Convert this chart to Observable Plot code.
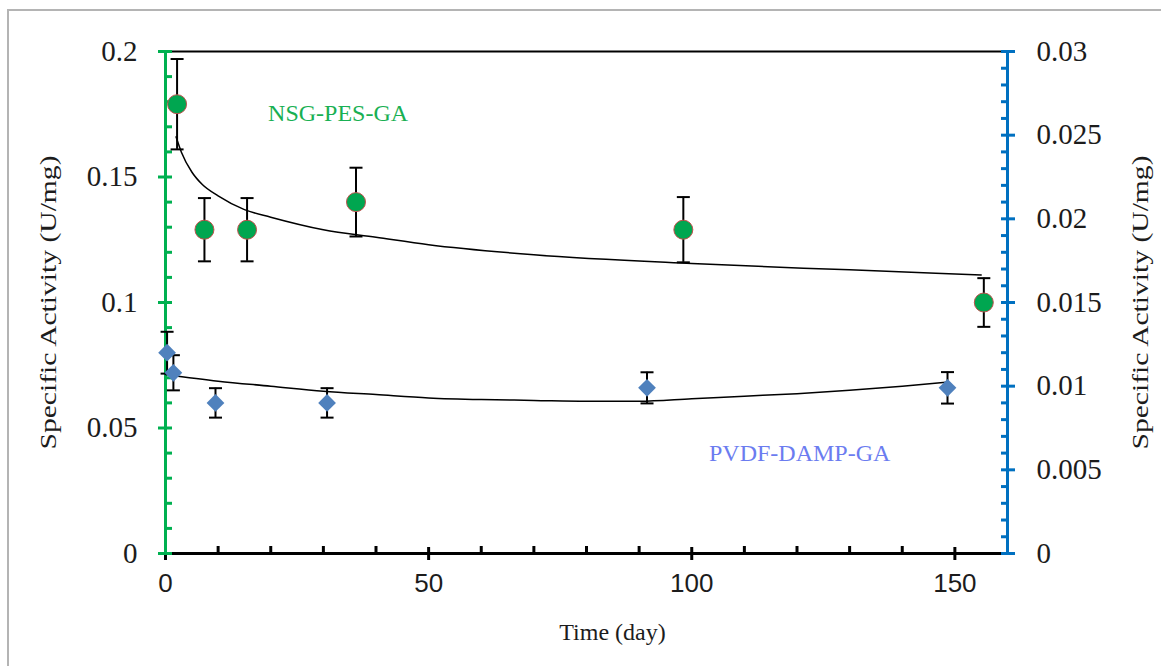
<!DOCTYPE html>
<html>
<head>
<meta charset="utf-8">
<script src="https://cdn.jsdelivr.net/npm/d3@7"></script>
<script src="https://cdn.jsdelivr.net/npm/@observablehq/plot@0.6"></script>
<style>
  html, body { margin: 0; padding: 0; background: #fff; overflow: hidden; }
  #wrap { position: relative; width: 1161px; height: 666px; }
  #wrap svg { position: absolute; left: 0; top: 0; background: transparent; }
  #border { position: absolute; left: 7px; top: 9px; width: 1200px; height: 700px;
            border: 2px solid #b4b4b4; pointer-events: none; }
</style>
</head>
<body>
<div id="wrap"><div id="border"></div></div>
<script>
// ---- data ----
const nsgDays     = [2.2, 7.4, 15.5, 36.2, 98.4, 155.5];
const nsgActivity = [0.179, 0.129, 0.129, 0.14, 0.129, 0.1];
const nsgError    = [0.018, 0.0126, 0.0126, 0.0137, 0.013, 0.0097];

const pvdfDays     = [0.3, 1.5, 9.5, 30.7, 91.5, 148.6];
const pvdfActivity = [0.012, 0.0108, 0.009, 0.009, 0.0099, 0.0099];   // right axis units
const pvdfError    = [0.00125, 0.00105, 0.00088, 0.00088, 0.00093, 0.00094];

const nsgTrendDays  = [2, 3, 5, 7, 10, 15, 20, 30, 40, 50, 70, 100, 130, 155];
const nsgTrendValue = [0.166, 0.160, 0.152, 0.147, 0.1425, 0.137, 0.134, 0.129, 0.126, 0.123, 0.119, 0.1155, 0.113, 0.111];

const pvdfTrendDays  = [0, 10, 20, 30, 40, 50, 60, 70, 80, 90, 100, 110, 120, 130, 140, 148.3];
const pvdfTrendValue = [0.0107, 0.0103, 0.0100, 0.0097, 0.0095, 0.0093, 0.0092, 0.00915, 0.0091, 0.0091, 0.00925, 0.0094, 0.00955, 0.00975, 0.0100, 0.01024];

const xDomain = [0, 160];
const yLeftDomain = [0, 0.2];
const yRightDomain = [0, 0.03];

const xMajorTicks = [0, 50, 100, 150];
const xMinorTicks = [10, 20, 30, 40, 60, 70, 80, 90, 110, 120, 130, 140];
const leftMajorTicks = [0, 0.05, 0.1, 0.15, 0.2];
const leftMinorTicks = [0.01, 0.02, 0.03, 0.04, 0.06, 0.07, 0.08, 0.09, 0.11, 0.12, 0.13, 0.14, 0.16, 0.17, 0.18, 0.19];
const rightMajorTicks = [0, 0.005, 0.01, 0.015, 0.02, 0.025, 0.03];
const rightMinorTicks = [0.001, 0.002, 0.003, 0.004, 0.006, 0.007, 0.008, 0.009, 0.011, 0.012, 0.013, 0.014,
                         0.016, 0.017, 0.018, 0.019, 0.021, 0.022, 0.023, 0.024, 0.026, 0.027, 0.028, 0.029];

const seriesLabels = ["NSG-PES-GA", "PVDF-DAMP-GA"];
const labelDays = [32.8, 120.5];
const labelValues = [0.1753, 0.0398];   // left axis units

const xTitle = "Time (day)";
const yTitle = "Specific Activity (U/mg)";

// ---- derived tables ----
const k = yLeftDomain[1] / yRightDomain[1]; // right -> left units
const nsg = nsgDays.map((d, i) => ({day: d, v: nsgActivity[i], e: nsgError[i]}));
const pvdf = pvdfDays.map((d, i) => ({day: d, v: pvdfActivity[i] * k, e: pvdfError[i] * k}));
const nsgTrend = nsgTrendDays.map((d, i) => ({day: d, v: nsgTrendValue[i]}));
const pvdfTrend = pvdfTrendDays.map((d, i) => ({day: d, v: pvdfTrendValue[i] * k}));
const labels = seriesLabels.map((s, i) => ({s, day: labelDays[i], v: labelValues[i]}));
const allBars = [...nsg, ...pvdf];
const caps = allBars.flatMap(d => [{day: d.day, v: d.v + d.e}, {day: d.day, v: d.v - d.e}]);

const capSymbol = { draw(ctx) { ctx.moveTo(-6.5, 0); ctx.lineTo(6.5, 0); } };

const GREEN = "#00b050", BLUE = "#0070c0", INK = "#1c1c1c";
const serif = "Liberation Serif, Times New Roman, serif";
const sans = "Liberation Sans, Arial, sans-serif";

const fmtLeft = d => String(+d.toFixed(3));
const fmtRight = d => String(Math.round(d / k * 10000) / 10000);

const chart = Plot.plot({
  width: 1161,
  height: 666,
  marginLeft: 165,
  marginRight: 154,
  marginTop: 51,
  marginBottom: 113,
  style: {background: "transparent", overflow: "visible"},
  x: {domain: xDomain},
  y: {domain: yLeftDomain},
  marks: [
    // top border and x axis line
    Plot.ruleY([yLeftDomain[1]], {stroke: "#000", strokeWidth: 2}),
    Plot.ruleY([yLeftDomain[0]], {stroke: "#000", strokeWidth: 3}),
    // x ticks
    Plot.axisX(xMajorTicks, {anchor: "bottom", tickSize: 13, dy: -6, stroke: "#000", strokeWidth: 3, fill: "none"}),
    Plot.axisX(xMinorTicks, {anchor: "bottom", tickSize: 7, dy: -7, stroke: "#000", strokeWidth: 3, fill: "none"}),
    Plot.axisX(xMajorTicks, {anchor: "bottom", tickSize: 0, tickPadding: 20, label: null, fill: INK,
      fontSize: 26, fontFamily: sans, tickFormat: d => String(d)}),
    // left axis (green)
    Plot.ruleX([xDomain[0]], {stroke: GREEN, strokeWidth: 3}),
    Plot.axisY(leftMajorTicks, {anchor: "left", tickSize: 14, dx: 7, stroke: GREEN, strokeWidth: 3, fill: "none"}),
    Plot.axisY(leftMinorTicks, {anchor: "left", tickSize: 7, dx: 7, stroke: GREEN, strokeWidth: 3, fill: "none"}),
    Plot.axisY(leftMajorTicks, {anchor: "left", tickSize: 0, tickPadding: 28, label: null, fill: INK,
      fontSize: 29, fontFamily: serif, tickFormat: fmtLeft}),
    // right axis (blue)
    Plot.ruleX([xDomain[1]], {stroke: BLUE, strokeWidth: 3}),
    Plot.axisY(rightMajorTicks.map(v => v * k), {anchor: "right", tickSize: 14, dx: -7, stroke: BLUE, strokeWidth: 3, fill: "none"}),
    Plot.axisY(rightMinorTicks.map(v => v * k), {anchor: "right", tickSize: 7, dx: -7, stroke: BLUE, strokeWidth: 3, fill: "none"}),
    Plot.axisY(rightMajorTicks.map(v => v * k), {anchor: "right", tickSize: 0, tickPadding: 29, label: null, fill: INK,
      fontSize: 29, fontFamily: serif, tickFormat: fmtRight}),
    // axis titles
    Plot.text([xTitle], {text: d => d, frameAnchor: "bottom", dx: 26, dy: 79, textAnchor: "middle", lineAnchor: "middle",
      fontSize: 24, fontFamily: serif, fill: INK}),
    Plot.text([yTitle], {text: d => d, frameAnchor: "left", rotate: -90, dx: -117, textAnchor: "middle", lineAnchor: "middle",
      fontSize: 23, fontFamily: serif, fill: INK, className: "ytitle"}),
    Plot.text([yTitle], {text: d => d, frameAnchor: "right", rotate: -90, dx: 133, textAnchor: "middle", lineAnchor: "middle",
      fontSize: 23, fontFamily: serif, fill: INK, className: "ytitle"}),
    // trend lines
    Plot.line(nsgTrend, {x: "day", y: "v", curve: "monotone-x", stroke: "#000", strokeWidth: 1.5}),
    Plot.line(pvdfTrend, {x: "day", y: "v", curve: "monotone-x", stroke: "#000", strokeWidth: 1.5}),
    // error bars
    Plot.ruleX(allBars, {x: "day", y1: d => d.v - d.e, y2: d => d.v + d.e, stroke: "#000", strokeWidth: 2}),
    Plot.dot(caps, {x: "day", y: "v", symbol: capSymbol, stroke: "#000", strokeWidth: 2, fill: "none"}),
    // points
    Plot.dot(nsg, {x: "day", y: "v", r: 9.5, fill: "#00a650", stroke: "#c0504d", strokeWidth: 1}),
    Plot.dot(pvdf, {x: "day", y: "v", symbol: "diamond2", r: 8, fill: "#4f81bd", stroke: "none"}),
    // series labels
    Plot.text(labels, {x: "day", y: "v", text: "s", fontSize: 24, fontFamily: serif,
      fill: (d, i) => i === 0 ? "#19b053" : "#6b7cf0", textAnchor: "middle", lineAnchor: "middle"})
  ]
});
// stretch the rotated axis titles to the reference's length (its lettering is drawn tall and narrow)
chart.querySelectorAll(".ytitle text").forEach(t => {
  t.setAttribute("textLength", 294);
  t.setAttribute("lengthAdjust", "spacingAndGlyphs");
});
document.getElementById("wrap").insertBefore(chart, document.getElementById("border"));
</script>
</body>
</html>
